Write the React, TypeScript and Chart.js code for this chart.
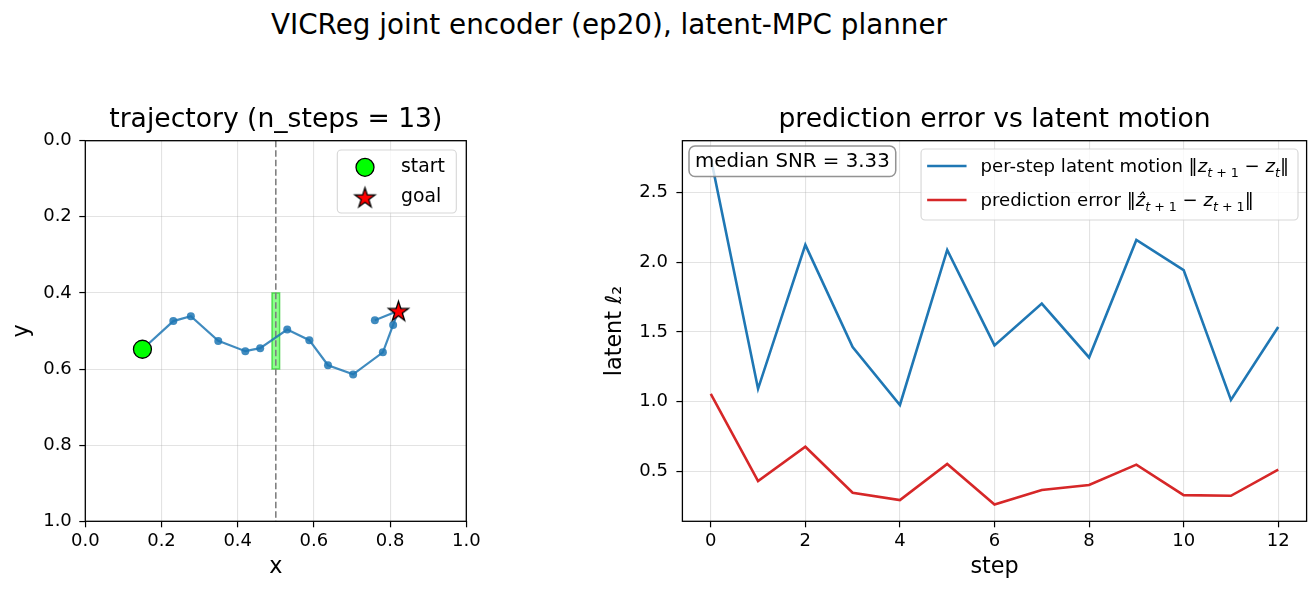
import React, { useEffect, useRef } from 'react';
import { Chart, registerables } from 'chart.js';

Chart.register(...registerables);

// ---------------- data: trajectory panel ----------------
const TRAJ_X = [0.150, 0.231, 0.277, 0.349, 0.420, 0.459, 0.530, 0.588, 0.637, 0.703, 0.781, 0.808, 0.822, 0.760];
const TRAJ_Y = [0.548, 0.474, 0.461, 0.526, 0.553, 0.545, 0.496, 0.524, 0.590, 0.614, 0.556, 0.484, 0.447, 0.472];
const START_X = 0.150;
const START_Y = 0.548;
const GOAL_X = 0.822;
const GOAL_Y = 0.447;
const WALL_X = 0.5;
const GAP_X = [0.49, 0.51];
const GAP_Y = [0.4, 0.6];
const UNIT_TICKS = [0, 0.2, 0.4, 0.6, 0.8, 1.0];
const TRAJ_LEGEND = ['start', 'goal'];

// ---------------- data: error vs motion panel ----------------
const STEPS = [0, 1, 2, 3, 4, 5, 6, 7, 8, 9, 10, 11, 12];
const LATENT_MOTION = [2.75, 1.092, 2.125, 1.392, 0.976, 2.089, 1.404, 1.704, 1.317, 2.161, 1.944, 1.012, 1.536];
const PRED_ERROR = [1.055, 0.430, 0.676, 0.346, 0.293, 0.553, 0.262, 0.366, 0.402, 0.548, 0.329, 0.324, 0.512];
const STEP_TICKS = [0, 2, 4, 6, 8, 10, 12];
const L2_TICKS = [0.5, 1.0, 1.5, 2.0, 2.5];
const MEDIAN_SNR = 3.33;

const SUPTITLE = 'VICReg joint encoder (ep20), latent-MPC planner';
const FONT = '"DejaVu Sans", sans-serif';

const BLUE = '#1f77b4';
const RED = '#d62728';
const TRAJ_COLOR = 'rgba(31,119,180,0.85)';

type Seg = { t: string; it?: boolean; sub?: boolean };

const MOTION_LABEL: Seg[] = [
  { t: 'per-step latent motion ' },
  { t: '‖' },
  { t: 'z', it: true },
  { t: 't', it: true, sub: true },
  { t: ' + 1', sub: true },
  { t: ' − ' },
  { t: 'z', it: true },
  { t: 't', it: true, sub: true },
  { t: '‖' },
];
const ERROR_LABEL: Seg[] = [
  { t: 'prediction error ' },
  { t: '‖' },
  { t: 'ẑ', it: true },
  { t: 't', it: true, sub: true },
  { t: ' + 1', sub: true },
  { t: ' − ' },
  { t: 'z', it: true },
  { t: 't', it: true, sub: true },
  { t: ' + 1', sub: true },
  { t: '‖' },
];

function segFont(s: Seg, size: number) {
  const fs = s.sub ? size * 0.7 : size;
  return `${s.it ? 'italic ' : ''}${fs}px ${FONT}`;
}
function segsWidth(ctx: CanvasRenderingContext2D, segs: Seg[], size: number) {
  let w = 0;
  for (const s of segs) {
    ctx.font = segFont(s, size);
    w += ctx.measureText(s.t).width;
  }
  return w;
}
function drawSegs(ctx: CanvasRenderingContext2D, segs: Seg[], x: number, baseline: number, size: number) {
  let cx = x;
  ctx.textBaseline = 'alphabetic';
  ctx.textAlign = 'left';
  for (const s of segs) {
    ctx.font = segFont(s, size);
    ctx.fillText(s.t, cx, s.sub ? baseline + size * 0.24 : baseline);
    cx += ctx.measureText(s.t).width;
  }
}

function makeStar(outer: number, fill: string) {
  const size = Math.ceil(outer * 2 + 6);
  const c = document.createElement('canvas');
  c.width = size;
  c.height = size;
  const ctx = c.getContext('2d') as CanvasRenderingContext2D;
  const cx = size / 2;
  const cy = size / 2 + outer * 0.09;
  const inner = outer * 0.381966;
  ctx.beginPath();
  for (let i = 0; i < 10; i++) {
    const r = i % 2 === 0 ? outer : inner;
    const a = -Math.PI / 2 + (i * Math.PI) / 5;
    const px = cx + r * Math.cos(a);
    const py = cy + r * Math.sin(a);
    if (i === 0) ctx.moveTo(px, py);
    else ctx.lineTo(px, py);
  }
  ctx.closePath();
  ctx.fillStyle = fill;
  ctx.fill();
  ctx.lineWidth = 1.3;
  ctx.strokeStyle = '#000';
  ctx.stroke();
  return c;
}

const framePlugin = {
  id: 'frame',
  afterDatasetsDraw(chart: any) {
    const { ctx, chartArea: a } = chart;
    ctx.save();
    ctx.strokeStyle = '#000';
    ctx.lineWidth = 1.3;
    ctx.strokeRect(a.left, a.top, a.right - a.left, a.bottom - a.top);
    ctx.restore();
  },
};

function fixX(width: number | null, height: number | null) {
  return (scale: any) => {
    if (width !== null) scale.width = width;
    if (height !== null) scale.height = height;
    scale.paddingLeft = 0;
    scale.paddingRight = 0;
    scale.paddingTop = 0;
    scale.paddingBottom = 0;
  };
}

const tickFont = { family: FONT, size: 18, lineHeight: 1.2 };
const labelFont = { family: FONT, size: 22.3, lineHeight: 1.2 };
const titleFont = { family: FONT, size: 26.6, weight: 'normal' as const, lineHeight: 1.2 };
const gridOpts = {
  color: 'rgba(176,176,176,0.35)',
  lineWidth: 1.1,
  tickColor: '#000',
  tickLength: 6,
  tickWidth: 1.2,
};

export default function App() {
  const leftRef = useRef<HTMLCanvasElement>(null);
  const rightRef = useRef<HTMLCanvasElement>(null);

  useEffect(() => {
    Chart.defaults.color = '#000';
    Chart.defaults.font.family = FONT;
    const star = makeStar(10.5, '#ff0000');

    // ---------- left panel ----------
    const barrierPlugin = {
      id: 'barrier',
      beforeDatasetsDraw(chart: any) {
        const { ctx, scales } = chart;
        const xs = scales.x;
        const ys = scales.y;
        const x0 = xs.getPixelForValue(GAP_X[0]);
        const x1 = xs.getPixelForValue(GAP_X[1]);
        const y0 = ys.getPixelForValue(GAP_Y[0]);
        const y1 = ys.getPixelForValue(GAP_Y[1]);
        ctx.save();
        ctx.fillStyle = 'rgba(0,255,0,0.45)';
        ctx.strokeStyle = 'rgba(0,190,0,0.55)';
        ctx.lineWidth = 1.5;
        ctx.fillRect(x0, Math.min(y0, y1), x1 - x0, Math.abs(y1 - y0));
        ctx.strokeRect(x0, Math.min(y0, y1), x1 - x0, Math.abs(y1 - y0));
        const wx = xs.getPixelForValue(WALL_X);
        ctx.strokeStyle = '#808080';
        ctx.lineWidth = 1.6;
        ctx.setLineDash([6.5, 3]);
        ctx.beginPath();
        ctx.moveTo(wx, ys.getPixelForValue(0));
        ctx.lineTo(wx, ys.getPixelForValue(1));
        ctx.stroke();
        ctx.restore();
      },
    };
    const trajLegend = {
      id: 'trajLegend',
      afterDraw(chart: any) {
        const { ctx, chartArea: a } = chart;
        const w = 119;
        const h = 63;
        const left = a.right - 10 - w;
        const top = a.top + 9.3;
        ctx.save();
        ctx.beginPath();
        ctx.roundRect(left, top, w, h, 4);
        ctx.fillStyle = 'rgba(255,255,255,0.8)';
        ctx.fill();
        ctx.strokeStyle = 'rgba(204,204,204,0.8)';
        ctx.lineWidth = 1.1;
        ctx.stroke();
        const rows = [top + 17.3, top + 47.3];
        const mx = left + 27.7;
        ctx.beginPath();
        ctx.arc(mx, rows[0], 9, 0, Math.PI * 2);
        ctx.fillStyle = '#00ff00';
        ctx.fill();
        ctx.lineWidth = 1.3;
        ctx.strokeStyle = '#000';
        ctx.stroke();
        ctx.drawImage(star, mx - star.width / 2, rows[1] - star.height / 2);
        ctx.fillStyle = '#000';
        ctx.font = `18.8px ${FONT}`;
        ctx.textBaseline = 'middle';
        ctx.textAlign = 'left';
        TRAJ_LEGEND.forEach((lab, i) => ctx.fillText(lab, left + 63.7, rows[i]));
        ctx.restore();
      },
    };

    const left = new Chart(leftRef.current as HTMLCanvasElement, {
      type: 'scatter',
      data: {
        datasets: [
          {
            label: 'start',
            data: [{ x: START_X, y: START_Y }],
            pointRadius: 9,
            pointBackgroundColor: '#00ff00',
            pointBorderColor: '#000',
            pointBorderWidth: 1.3,
          },
          {
            label: 'goal',
            data: [{ x: GOAL_X, y: GOAL_Y }],
            pointStyle: star as any,
            pointRadius: 10,
          },
          {
            label: 'trajectory',
            data: TRAJ_X.map((x, i) => ({ x, y: TRAJ_Y[i] })),
            showLine: true,
            borderColor: TRAJ_COLOR,
            backgroundColor: TRAJ_COLOR,
            pointBackgroundColor: TRAJ_COLOR,
            pointBorderColor: TRAJ_COLOR,
            borderWidth: 2.2,
            pointRadius: 4,
            pointBorderWidth: 0,
          },
        ],
      },
      options: {
        responsive: false,
        animation: false,
        events: [],
        layout: { padding: { top: 104.34, right: 93.7, bottom: 0, left: 0 } },
        plugins: {
          legend: { display: false },
          tooltip: { enabled: false },
          title: {
            display: true,
            text: 'trajectory (n_steps = 13)',
            font: titleFont,
            color: '#000',
            fullSize: false,
            padding: { top: 0, bottom: 4.44 },
          },
        },
        scales: {
          x: {
            type: 'linear',
            min: 0,
            max: 1,
            afterBuildTicks: (s: any) => { s.ticks = UNIT_TICKS.map((v) => ({ value: v })); },
            afterFit: fixX(null, 71.7),
            ticks: { font: tickFont, color: '#000', padding: 3.5, maxRotation: 0, callback: (v: any) => Number(v).toFixed(1) },
            grid: gridOpts,
            border: { display: false },
            title: { display: true, text: 'x', font: labelFont, color: '#000', padding: { top: 0, bottom: 12.3 } },
          },
          y: {
            type: 'linear',
            reverse: true,
            min: 0,
            max: 1,
            afterBuildTicks: (s: any) => { s.ticks = UNIT_TICKS.map((v) => ({ value: v })); },
            afterFit: fixX(85.3, null),
            ticks: { font: tickFont, color: '#000', padding: 7.5, callback: (v: any) => Number(v).toFixed(1) },
            grid: gridOpts,
            border: { display: false },
            title: { display: true, text: 'y', font: labelFont, color: '#000', padding: { top: 8.5, bottom: 0 } },
          },
        },
      },
      plugins: [barrierPlugin, framePlugin, trajLegend],
    } as any);

    // ---------- right panel ----------
    const snrPlugin = {
      id: 'snrLegend',
      afterDraw(chart: any) {
        const { ctx, chartArea: a } = chart;
        ctx.save();
        const snrText = `median SNR = ${MEDIAN_SNR.toFixed(2)}`;
        ctx.font = `19.8px ${FONT}`;
        const tw = ctx.measureText(snrText).width;
        const bx = a.left + 6.6;
        const by = a.top + 5.3;
        ctx.beginPath();
        ctx.roundRect(bx, by, tw + 12, 30.5, 6);
        ctx.fillStyle = 'rgba(255,255,255,0.8)';
        ctx.fill();
        ctx.strokeStyle = 'rgba(128,128,128,0.85)';
        ctx.lineWidth = 1.5;
        ctx.stroke();
        ctx.fillStyle = '#000';
        ctx.textBaseline = 'middle';
        ctx.textAlign = 'left';
        ctx.fillText(snrText, bx + 6, by + 15.6);

        const size = 18.1;
        const labels = [MOTION_LABEL, ERROR_LABEL];
        const colors = [BLUE, RED];
        const maxW = Math.max(...labels.map((l) => segsWidth(ctx, l, size)));
        const w = 59.5 + maxW + 9;
        const h = 71;
        const lx = a.right - 8.6 - w;
        const ly = a.top + 8.3;
        ctx.beginPath();
        ctx.roundRect(lx, ly, w, h, 4);
        ctx.fillStyle = 'rgba(255,255,255,0.8)';
        ctx.fill();
        ctx.strokeStyle = 'rgba(204,204,204,0.8)';
        ctx.lineWidth = 1.1;
        ctx.stroke();
        const rows = [ly + 17, ly + 51];
        labels.forEach((lab, i) => {
          ctx.beginPath();
          ctx.moveTo(lx + 6.1, rows[i]);
          ctx.lineTo(lx + 45.5, rows[i]);
          ctx.strokeStyle = colors[i];
          ctx.lineWidth = 2.6;
          ctx.stroke();
          ctx.fillStyle = '#000';
          drawSegs(ctx, lab, lx + 59.5, rows[i] + 6.4, size);
        });
        ctx.restore();
      },
    };

    const right = new Chart(rightRef.current as HTMLCanvasElement, {
      type: 'scatter',
      data: {
        datasets: [
          {
            label: 'prediction error',
            data: STEPS.map((x, i) => ({ x, y: PRED_ERROR[i] })),
            showLine: true,
            borderColor: RED,
            borderWidth: 2.6,
            pointRadius: 0,
          },
          {
            label: 'per-step latent motion',
            data: STEPS.map((x, i) => ({ x, y: LATENT_MOTION[i] })),
            showLine: true,
            borderColor: BLUE,
            borderWidth: 2.6,
            pointRadius: 0,
          },
        ],
      },
      options: {
        responsive: false,
        animation: false,
        events: [],
        layout: { padding: { top: 104.34, right: 9.4, bottom: 0, left: 0 } },
        plugins: {
          legend: { display: false },
          tooltip: { enabled: false },
          title: {
            display: true,
            text: 'prediction error vs latent motion',
            font: titleFont,
            color: '#000',
            fullSize: false,
            padding: { top: 0, bottom: 4.44 },
          },
        },
        scales: {
          x: {
            type: 'linear',
            min: -0.6,
            max: 12.6,
            afterBuildTicks: (s: any) => { s.ticks = STEP_TICKS.map((v) => ({ value: v })); },
            afterFit: fixX(null, 71.7),
            ticks: { font: tickFont, color: '#000', padding: 3.5, maxRotation: 0, callback: (v: any) => String(v) },
            grid: gridOpts,
            border: { display: false },
            title: { display: true, text: 'step', font: labelFont, color: '#000', padding: { top: 0, bottom: 12.3 } },
          },
          y: {
            type: 'linear',
            min: 0.141,
            max: 2.873,
            afterBuildTicks: (s: any) => { s.ticks = L2_TICKS.map((v) => ({ value: v })); },
            afterFit: fixX(122.4, null),
            ticks: { font: tickFont, color: '#000', padding: 8.5, callback: (v: any) => Number(v).toFixed(1) },
            grid: gridOpts,
            border: { display: false },
            title: { display: true, text: 'latent ℓ₂', font: labelFont, color: '#000', padding: { top: 41.4, bottom: 0 } },
          },
        },
      },
      plugins: [framePlugin, snrPlugin],
    } as any);

    return () => {
      left.destroy();
      right.destroy();
    };
  }, []);

  return (
    <div style={{ position: 'absolute', left: 0, top: 0, width: 1316, height: 593, background: '#fff', overflow: 'hidden' }}>
      <div
        style={{
          position: 'absolute',
          left: 0,
          top: 10.5,
          width: 1218,
          textAlign: 'center',
          fontFamily: FONT,
          fontSize: 27.8,
          lineHeight: 1,
          color: '#000',
          whiteSpace: 'nowrap',
        }}
      >
        {SUPTITLE}
      </div>
      <canvas ref={leftRef} width={560} height={593} style={{ position: 'absolute', left: 0, top: 0, width: 560, height: 593 }} />
      <canvas ref={rightRef} width={756} height={593} style={{ position: 'absolute', left: 560, top: 0, width: 756, height: 593 }} />
    </div>
  );
}
